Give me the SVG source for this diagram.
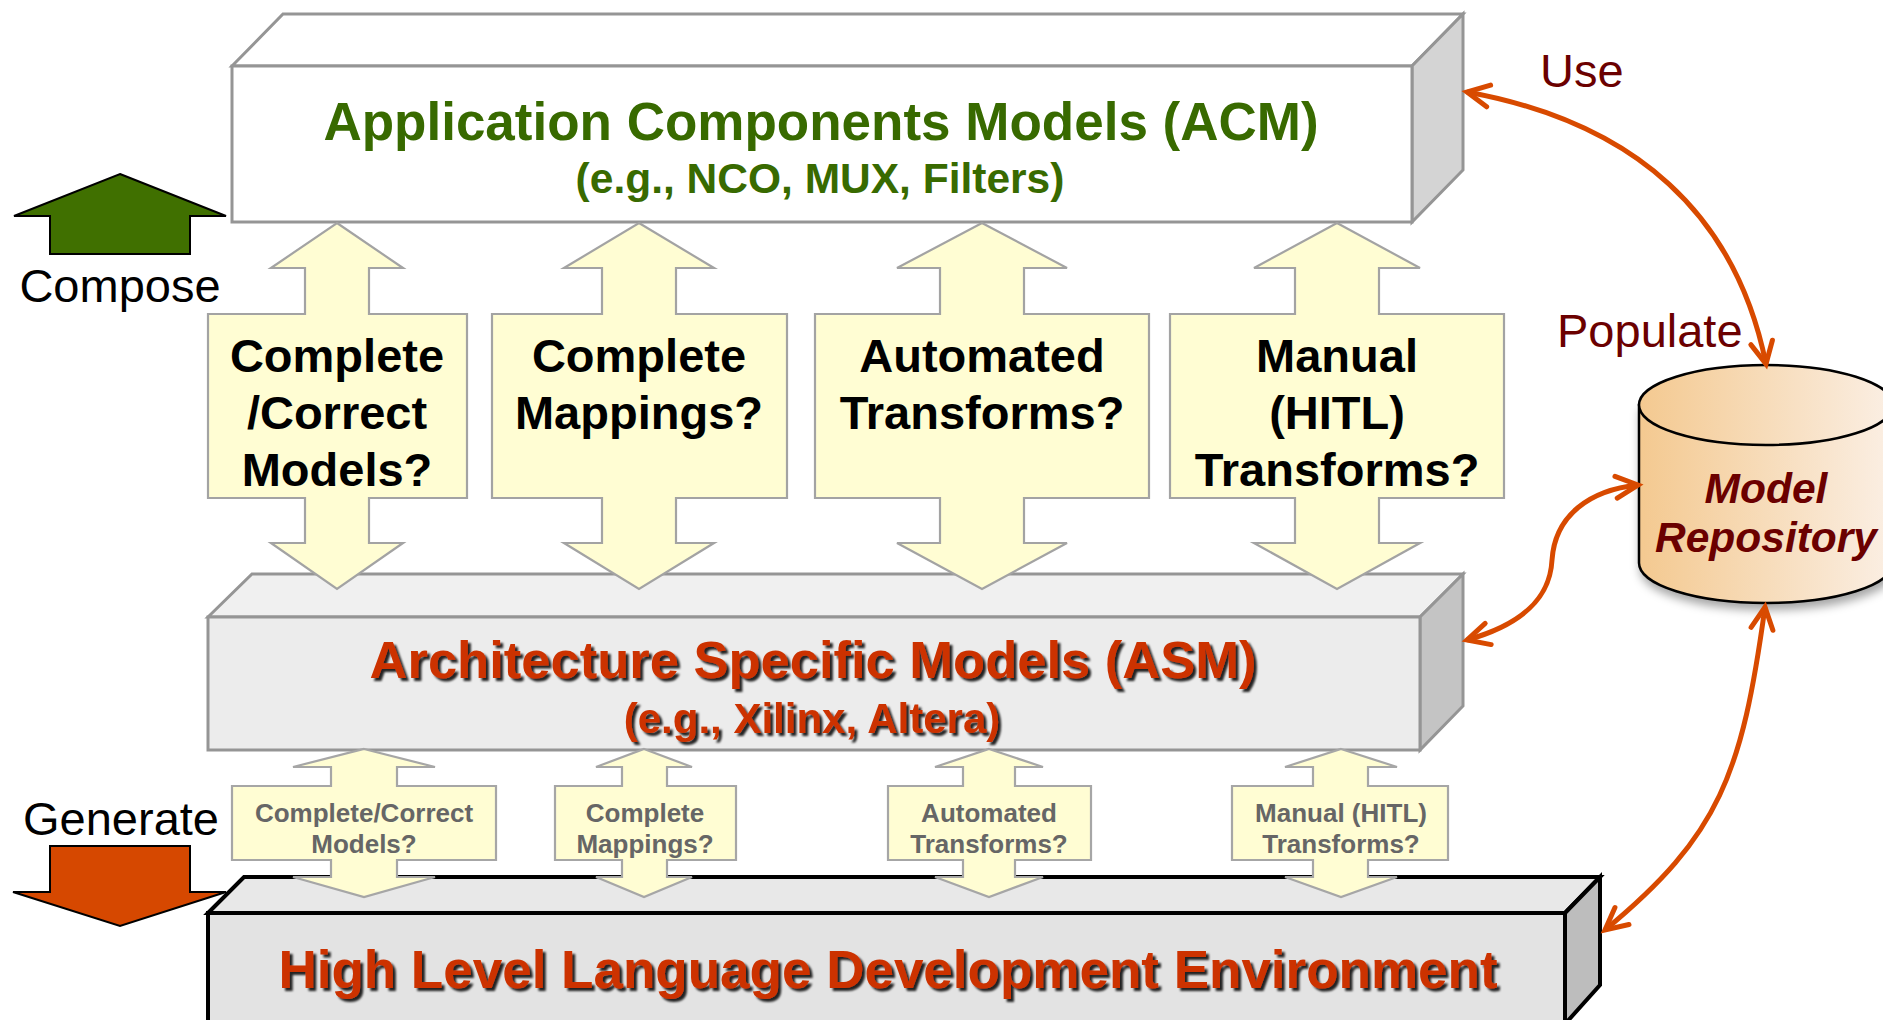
<svg xmlns="http://www.w3.org/2000/svg" width="1883" height="1020" viewBox="0 0 1883 1020">
<defs>
<style>
.f{font-family:"Liberation Sans",Arial,Helvetica,sans-serif}
.b{font-weight:bold}
.big{fill:#fffdd3;stroke:#a3a3a3;stroke-width:2.2;stroke-linejoin:miter}
.sm{fill:#fffdd3;stroke:#a6a6a6;stroke-width:2.2}
.bt{font-family:"Liberation Sans",Arial,sans-serif;font-weight:bold;font-size:47px;fill:#000;text-anchor:middle}
.st{font-family:"Liberation Sans",Arial,sans-serif;font-weight:bold;font-size:26px;fill:#666;text-anchor:middle}
.edge{fill:none;stroke:#d84a00;stroke-width:5;marker-start:url(#ah);marker-end:url(#ah)}
.red{fill:#cc3300;filter:url(#ts)}
.lbl{font-family:"Liberation Sans",Arial,sans-serif;font-size:47px;fill:#6b0000}
</style>
<marker id="ah" viewBox="-26 -14 30 28" refX="0" refY="0" markerWidth="30" markerHeight="28" markerUnits="userSpaceOnUse" orient="auto-start-reverse" overflow="visible">
<path d="M-22,-11 L0,0 L-22,11" fill="none" stroke="#d84a00" stroke-width="5" stroke-linecap="round"/>
</marker>
<filter id="ts" x="-5%" y="-20%" width="110%" height="150%">
<feDropShadow dx="3" dy="3" stdDeviation="1.2" flood-color="#000" flood-opacity="0.85"/>
</filter>
<filter id="cs" x="-20%" y="-20%" width="140%" height="150%">
<feDropShadow dx="2" dy="6" stdDeviation="5" flood-color="#000" flood-opacity="0.35"/>
</filter>
<linearGradient id="cg" x1="0" y1="0" x2="1" y2="0">
<stop offset="0" stop-color="#f4c990"/>
<stop offset="0.5" stop-color="#f7dcba"/>
<stop offset="1" stop-color="#fbefe4"/>
</linearGradient>
</defs>
<rect width="1883" height="1020" fill="#fff"/>

<g id="acm">
<polygon points="232,66 283,14 1463,14 1412,66" fill="#fff" stroke="#959595" stroke-width="3"/>
<polygon points="1412,66 1463,14 1463,170 1412,222" fill="#d4d4d4" stroke="#959595" stroke-width="3"/>
<rect x="232" y="66" width="1180" height="156" fill="#fff" stroke="#959595" stroke-width="3"/>
<text class="f b" x="821" y="140" font-size="53" fill="#386a00" text-anchor="middle">Application Components Models (ACM)</text>
<text class="f b" x="820" y="193" font-size="42.5" fill="#386a00" text-anchor="middle">(e.g., NCO, MUX, Filters)</text>
</g>

<g id="asm">
<polygon points="208,617 252,574 1463,574 1420,617" fill="#f0f0f0" stroke="#959595" stroke-width="3"/>
<polygon points="1420,617 1463,574 1463,706 1420,750" fill="#c4c4c4" stroke="#959595" stroke-width="3"/>
<rect x="208" y="617" width="1212" height="133" fill="#ececec" stroke="#959595" stroke-width="3"/>
<text class="f b red" x="813" y="678" font-size="52.5" text-anchor="middle">Architecture Specific Models (ASM)</text>
<text class="f b red" x="812" y="733" font-size="42" text-anchor="middle">(e.g., Xilinx, Altera)</text>
</g>

<g id="big-arrow-1">
<path class="big" d="M337,223 L403,268 L369,268 L369,314 L467,314 L467,498 L369,498 L369,543 L403,543 L337,589 L271,543 L305,543 L305,498 L208,498 L208,314 L305,314 L305,268 L271,268 Z"/>
<text class="bt" x="337" y="372">Complete</text>
<text class="bt" x="337" y="429">/Correct</text>
<text class="bt" x="337" y="486">Models?</text>
</g>
<g id="big-arrow-2">
<path class="big" d="M639,223 L714,268 L676,268 L676,314 L787,314 L787,498 L676,498 L676,543 L714,543 L639,589 L564,543 L602,543 L602,498 L492,498 L492,314 L602,314 L602,268 L564,268 Z"/>
<text class="bt" x="639" y="372">Complete</text>
<text class="bt" x="639" y="429">Mappings?</text>
</g>
<g id="big-arrow-3">
<path class="big" d="M982,223 L1067,268 L1024,268 L1024,314 L1149,314 L1149,498 L1024,498 L1024,543 L1067,543 L982,589 L897,543 L940,543 L940,498 L815,498 L815,314 L940,314 L940,268 L897,268 Z"/>
<text class="bt" x="982" y="372">Automated</text>
<text class="bt" x="982" y="429">Transforms?</text>
</g>
<g id="big-arrow-4">
<path class="big" d="M1337,223 L1420,268 L1379,268 L1379,314 L1504,314 L1504,498 L1379,498 L1379,543 L1420,543 L1337,589 L1254,543 L1295,543 L1295,498 L1170,498 L1170,314 L1295,314 L1295,268 L1254,268 Z"/>
<text class="bt" x="1337" y="372">Manual</text>
<text class="bt" x="1337" y="429">(HITL)</text>
<text class="bt" x="1337" y="486">Transforms?</text>
</g>

<g id="hll">
<polygon points="208,913 244,877 1600,877 1565,913" fill="#e8e8e8" stroke="#000" stroke-width="4" stroke-linejoin="miter"/>
<polygon points="1565,913 1600,877 1600,985 1565,1024" fill="#bdbdbd" stroke="#000" stroke-width="4"/>
<rect x="208" y="913" width="1357" height="120" fill="#e3e3e3" stroke="#000" stroke-width="4"/>
<text class="f b red" x="888" y="988" font-size="53" text-anchor="middle">High Level Language Development Environment</text>
</g>

<g id="small-arrow-1">
<path class="sm" d="M364,749 L435,767 L397,767 L397,786 L496,786 L496,860 L397,860 L397,877 L435,877 L364,897 L293,877 L331,877 L331,860 L232,860 L232,786 L331,786 L331,767 L293,767 Z"/>
<text class="st" x="364" y="822">Complete/Correct</text>
<text class="st" x="364" y="853">Models?</text>
</g>
<g id="small-arrow-2">
<path class="sm" d="M644,749 L692,767 L667,767 L667,786 L736,786 L736,860 L667,860 L667,877 L692,877 L644,897 L596,877 L622,877 L622,860 L555,860 L555,786 L622,786 L622,767 L596,767 Z"/>
<text class="st" x="645" y="822">Complete</text>
<text class="st" x="645" y="853">Mappings?</text>
</g>
<g id="small-arrow-3">
<path class="sm" d="M989,749 L1043,767 L1015,767 L1015,786 L1091,786 L1091,860 L1015,860 L1015,877 L1043,877 L989,897 L935,877 L963,877 L963,860 L888,860 L888,786 L963,786 L963,767 L935,767 Z"/>
<text class="st" x="989" y="822">Automated</text>
<text class="st" x="989" y="853">Transforms?</text>
</g>
<g id="small-arrow-4">
<path class="sm" d="M1341,749 L1397,767 L1368,767 L1368,786 L1448,786 L1448,860 L1368,860 L1368,877 L1397,877 L1341,897 L1285,877 L1313,877 L1313,860 L1232,860 L1232,786 L1313,786 L1313,767 L1285,767 Z"/>
<text class="st" x="1341" y="822">Manual (HITL)</text>
<text class="st" x="1341" y="853">Transforms?</text>
</g>

<g id="compose">
<polygon points="120,174 226,216 190,216 190,254 50,254 50,216 14,216" fill="#407000" stroke="#000" stroke-width="2"/>
<text class="f" x="120" y="302" font-size="47" fill="#000" text-anchor="middle">Compose</text>
</g>
<g id="generate">
<polygon points="50,846 190,846 190,892 226,892 120,926 13,892 50,892" fill="#d64800" stroke="#000" stroke-width="2"/>
<text class="f" x="121" y="835" font-size="47" fill="#000" text-anchor="middle">Generate</text>
</g>

<g id="repository">
<path d="M1639,405 L1639,563 A127,40 0 0 0 1893,563 L1893,405 Z" fill="url(#cg)" stroke="#000" stroke-width="2.5" filter="url(#cs)"/>
<ellipse cx="1766" cy="405" rx="127" ry="40" fill="url(#cg)" stroke="#000" stroke-width="2.5"/>
<text class="f b" x="1766" y="503" font-size="42.5" font-style="italic" fill="#6b0000" text-anchor="middle">Model</text>
<text class="f b" x="1766" y="552" font-size="42.5" font-style="italic" fill="#6b0000" text-anchor="middle">Repository</text>
</g>

<g id="connectors">
<path class="edge" d="M1467,92 C1637,123 1736,216 1766,364"/>
<path class="edge" d="M1467,640 C1520,625 1550,600 1552,560 C1555,515 1590,490 1638,485"/>
<path class="edge" d="M1605,930 C1720,835 1742,774 1765,607"/>
<text class="lbl" x="1540" y="87">Use</text>
<text class="lbl" x="1557" y="347">Populate</text>
</g>
</svg>
